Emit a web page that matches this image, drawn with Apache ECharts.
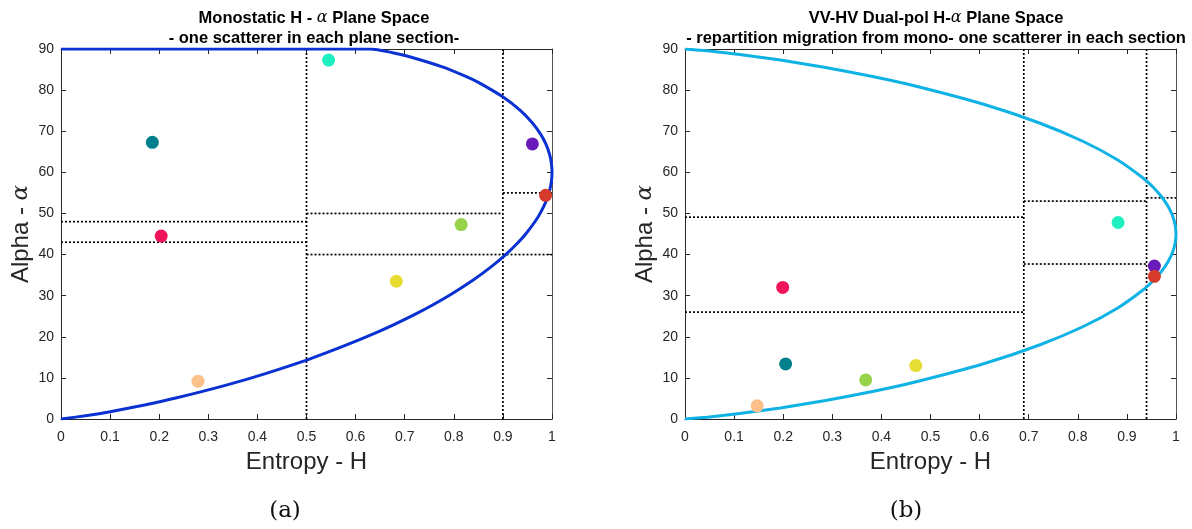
<!DOCTYPE html>
<html><head><meta charset="utf-8">
<script src="https://cdn.jsdelivr.net/npm/echarts@6/dist/echarts.min.js"></script>
<style>html,body{margin:0;padding:0;background:#fff}#c{width:1192px;height:529px}</style>
</head><body><div id="c"></div>
<script>
// ---- data ----
const pointColors = ['#00808c','#f0145a','#6a1ab8','#d63a2a','#96d24a','#e6dc32','#fcc08a','#1ef0c0'];
const monoH     = [0.186, 0.204, 0.960, 0.987, 0.815, 0.683, 0.279, 0.545];
const monoAlpha = [67.3, 44.5, 66.9, 54.4, 47.3, 33.5, 9.2, 87.3];
const dualH     = [0.205, 0.199, 0.956, 0.956, 0.368, 0.470, 0.147, 0.882];
const dualAlpha = [13.4, 32.0, 37.2, 34.7, 9.5, 13.0, 3.2, 47.8];

// feasible-region boundary (H, alpha)
const monoBoundary = [[0,0],[0.0568,0.89],[0.1002,1.76],[0.1727,3.46],[0.2337,5.09],[0.3347,8.18],[0.4165,11.05],[0.5153,15.0],[0.6373,20.77],[0.7248,25.71],[0.7897,30.0],[0.8388,33.75],[0.8765,37.06],[0.9057,40.0],[0.9285,42.63],[0.9464,45.0],[0.9713,49.09],[0.9863,52.5],[0.9947,55.38],[0.9989,57.86],[1,60],
  [0.9989,62.07],[0.9952,64.29],[0.9883,66.67],[0.9771,69.23],[0.9602,72.0],[0.9359,75.0],[0.9011,78.26],[0.8509,81.82],[0.8245,83.33],[0.7752,85.71],[0.7064,88.24],[0.6753,89.11],[0.631,90],[0,90]];
const dualBoundary = [[0,0],[0.0454,0.45],[0.0808,0.9],[0.1414,1.8],[0.1944,2.7],[0.2864,4.5],[0.3843,6.75],[0.469,9],[0.6098,13.5],[0.7219,18],[0.8113,22.5],[0.8813,27],[0.9341,31.5],[0.9544,33.75],[0.971,36],[0.9837,38.25],[0.9928,40.5],[0.9982,42.75],[1,45],
  [0.9982,47.25],[0.9928,49.5],[0.9837,51.75],[0.971,54],[0.9544,56.25],[0.9341,58.5],[0.8813,63],[0.8113,67.5],[0.7219,72],[0.6098,76.5],[0.469,81],[0.3843,83.25],[0.2864,85.5],[0.1944,87.3],[0.1414,88.2],[0.0808,89.1],[0.0454,89.55],[0,90]];

// plane section borders: [alpha, Hfrom, Hto] and vertical H values
const monoHorizontal = [[48,0,0.5],[43,0,0.5],[50,0.5,0.9],[40,0.5,1],[55,0.9,1]];
const monoVertical = [0.5, 0.9];
const dualHorizontal = [[49.1,0,0.69],[26,0,0.69],[53,0.69,0.94],[37.7,0.69,0.94],[53.8,0.94,1]];
const dualVertical = [0.69, 0.94];

const xTicks = [0,0.1,0.2,0.3,0.4,0.5,0.6,0.7,0.8,0.9,1];
const yTicks = [0,10,20,30,40,50,60,70,80,90];

// ---- chart ----
const FONT = 'Liberation Sans';
const axisCol = '#262626';
const grids = [
  {left:61, width:491, top:49, height:370},
  {left:685, width:491, top:49, height:370}
];
function xAxes(gi){
  return [
    {gridIndex:gi, type:'value', min:0, max:1, interval:0.1, position:'bottom',
     name:'Entropy - H', nameLocation:'middle', nameGap:31,
     nameTextStyle:{fontFamily:FONT, fontSize:24, color:axisCol},
     axisLine:{show:true, onZero:false, lineStyle:{color:axisCol, width:1}},
     axisTick:{show:true, inside:true, length:5, lineStyle:{color:axisCol}},
     axisLabel:{fontFamily:FONT, fontSize:14, color:axisCol, margin:11,
       formatter:v=>{const t=xTicks.find(k=>Math.abs(k-v)<1e-6);return t===undefined?'':String(t);}},
     splitLine:{show:false}},
    {gridIndex:gi, type:'value', min:0, max:1, interval:0.1, position:'top',
     axisLine:{show:true, onZero:false, lineStyle:{color:axisCol, width:1}},
     axisTick:{show:true, inside:true, length:5, lineStyle:{color:axisCol}},
     axisLabel:{show:false}, splitLine:{show:false}}
  ];
}
function yAxes(gi){
  return [
    {gridIndex:gi, type:'value', min:0, max:90, interval:10, position:'left',
     name:'Alpha - {a|α}', nameLocation:'middle', nameGap:28, nameRotate:90,
     nameTextStyle:{fontFamily:FONT, fontSize:24, color:axisCol,
       rich:{a:{fontFamily:'DejaVu Serif', fontStyle:'italic', fontSize:23, color:axisCol}}},
     axisLine:{show:true, onZero:false, lineStyle:{color:axisCol, width:1}},
     axisTick:{show:true, inside:true, length:5, lineStyle:{color:axisCol}},
     axisLabel:{fontFamily:FONT, fontSize:14, color:axisCol, margin:7,
       formatter:v=>yTicks.includes(v)?String(v):''},
     splitLine:{show:false}},
    {gridIndex:gi, type:'value', min:0, max:90, interval:10, position:'right',
     axisLine:{show:true, onZero:false, lineStyle:{color:'#555', width:1}},
     axisTick:{show:true, inside:true, length:5, lineStyle:{color:axisCol}},
     axisLabel:{show:false}, splitLine:{show:false}}
  ];
}
const dotted = {color:'#000', width:1.7, type:[2,2]};
function sectionSeries(gi, horiz, vert){
  const s = [];
  horiz.forEach(h=>s.push({type:'line', xAxisIndex:gi*2, yAxisIndex:gi*2, symbol:'none', silent:true,
    lineStyle:dotted, data:[[h[1],h[0]],[h[2],h[0]]], z:2}));
  vert.forEach(v=>s.push({type:'line', xAxisIndex:gi*2, yAxisIndex:gi*2, symbol:'none', silent:true,
    lineStyle:dotted, data:[[v,0],[v,90]], z:2}));
  return s;
}
function pointSeries(gi, hs, as){
  return {type:'scatter', xAxisIndex:gi*2, yAxisIndex:gi*2, symbolSize:13, z:5,
    data: hs.map((h,i)=>({value:[h,as[i]], itemStyle:{color:pointColors[i], opacity:1}}))};
}
const series = [
  ...sectionSeries(0, monoHorizontal, monoVertical),
  {type:'line', xAxisIndex:0, yAxisIndex:0, symbol:'none', smooth:0.2, z:3,
   lineStyle:{color:'#0a32d2', width:3}, data:monoBoundary},
  pointSeries(0, monoH, monoAlpha),
  ...sectionSeries(1, dualHorizontal, dualVertical),
  {type:'line', xAxisIndex:2, yAxisIndex:2, symbol:'none', smooth:0.2, z:3,
   lineStyle:{color:'#0fb2e4', width:3}, data:dualBoundary},
  pointSeries(1, dualH, dualAlpha)
];
const titleStyle = {fontFamily:FONT, fontSize:16.5, fontWeight:'bold', color:'#000', lineHeight:20,
  rich:{a:{fontFamily:'DejaVu Serif', fontStyle:'italic', fontWeight:'normal', fontSize:16, color:'#000', lineHeight:20}}};
const chart = echarts.init(document.getElementById('c'), null, {renderer:'canvas'});
chart.setOption({
  animation:false,
  backgroundColor:'#fff',
  title:[
    {text:'Monostatic H - {a|α} Plane Space\n- one scatterer in each plane section-', left:309, top:3, textAlign:'center', textStyle:titleStyle},
    {text:'VV-HV Dual-pol H-{a|α} Plane Space\n- repartition migration from mono- one scatterer in each section', left:931, top:3, textAlign:'center', textStyle:titleStyle},
    {text:'(a)', left:280, top:495, textAlign:'center', textStyle:{fontFamily:'DejaVu Serif', fontSize:23, fontWeight:'normal', color:'#111'}},
    {text:'(b)', left:901, top:495, textAlign:'center', textStyle:{fontFamily:'DejaVu Serif', fontSize:23, fontWeight:'normal', color:'#111'}}
  ],
  grid:grids,
  xAxis:[...xAxes(0), ...xAxes(1)],
  yAxis:[...yAxes(0), ...yAxes(1)],
  series:series
});
</script></body></html>
